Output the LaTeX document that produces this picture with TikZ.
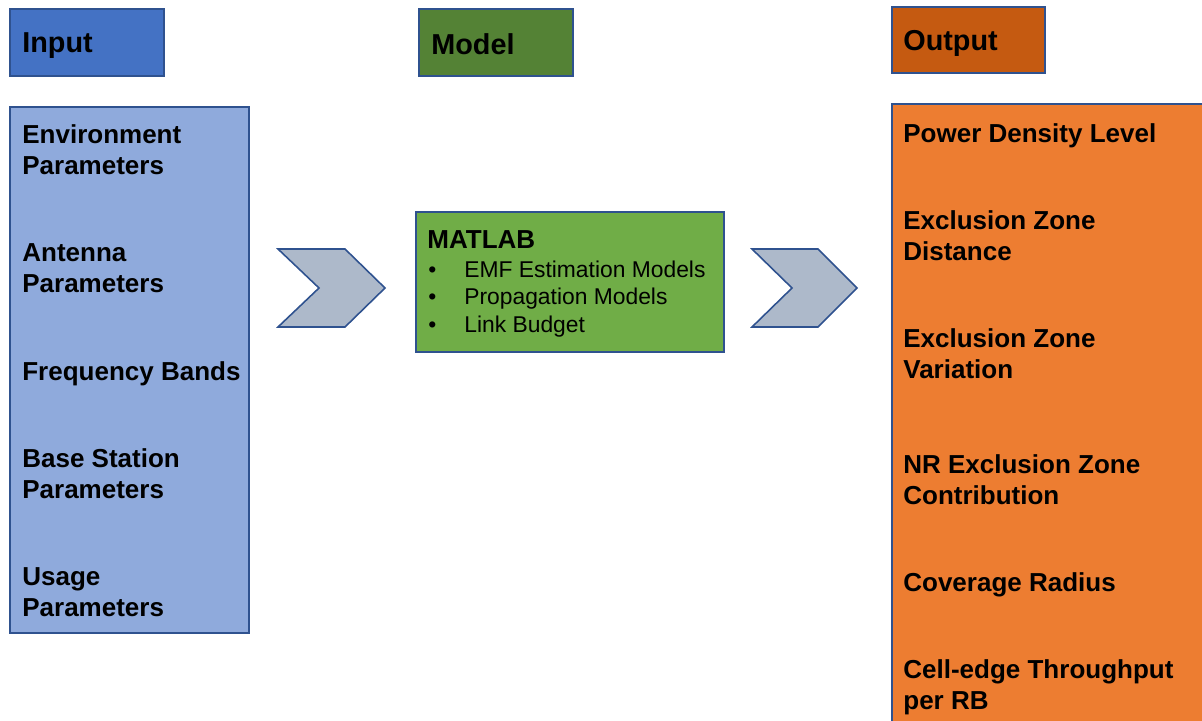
\documentclass[tikz,border=0pt]{standalone}
\usepackage{fontspec}
\setmainfont{Liberation Sans}
\usetikzlibrary{positioning}
\definecolor{InputBlue}{HTML}{4472C4}
\definecolor{InputLight}{HTML}{8FAADC}
\definecolor{ModelDark}{HTML}{548235}
\definecolor{ModelGreen}{HTML}{70AD47}
\definecolor{OutDark}{HTML}{C55A11}
\definecolor{OutOrange}{HTML}{ED7D31}
\definecolor{ChevGray}{HTML}{ADB9CA}
\definecolor{EdgeBlue}{HTML}{2F528F}
\tikzset{
  headbox/.style={draw=EdgeBlue,line width=0.9pt,rectangle,anchor=north west,
    inner sep=0pt},
  colbox/.style={draw=EdgeBlue,line width=0.9pt,rectangle,anchor=north west,
    inner sep=0pt},
  headtext/.style={anchor=base west,inner sep=0pt,
    font=\fontsize{16.4}{19}\selectfont\bfseries},
  itemtext/.style={anchor=north west,inner sep=0pt,align=left,
    font=\fontsize{14.8}{17.6}\selectfont\bfseries},
  bullettext/.style={anchor=north west,inner sep=0pt,align=left,
    font=\fontsize{13}{15.7}\selectfont},
  chevron/.style={draw=EdgeBlue,line width=0.9pt,fill=ChevGray,line join=miter},
}
\newcommand{\itembullet}{\makebox[0.72cm][l]{•}}

\begin{document}
\begin{tikzpicture}[x=0.02cm,y=-0.02cm]
  \useasboundingbox (0,0) rectangle (1202,720);
  \clip (0,0) rectangle (1202,720);
  % column headers
  \node[headbox,fill=InputBlue,minimum width=154*0.02cm,minimum height=67*0.02cm] (inhead) at (9,8) {};
  \node[headbox,fill=ModelDark,minimum width=154*0.02cm,minimum height=67*0.02cm] (modelhead) at (418,8) {};
  \node[headbox,fill=OutDark,minimum width=153*0.02cm,minimum height=66*0.02cm] (outhead) at (891,6) {};
  \node[headtext] (intitle) at (22,52) {Input};
  \node[headtext] (modeltitle) at (431,54) {Model};
  \node[headtext] (outtitle) at (903,50) {Output};
  % main boxes
  \node[colbox,fill=InputLight,minimum width=239*0.02cm,minimum height=526*0.02cm] (incol) at (9,106) {};
  \node[colbox,fill=ModelGreen,minimum width=308*0.02cm,minimum height=140*0.02cm] (modelbox) at (415,211) {};
  \node[colbox,fill=OutOrange,minimum width=330*0.02cm,minimum height=640*0.02cm] (outcol) at (891,103) {};
  % input items
  \node[itemtext] (env) at (22,124) {Environment\\Parameters};
  \node[itemtext] (ant) at (22,243) {Antenna\\Parameters};
  \node[itemtext] (freq) at (22,361) {Frequency Bands};
  \node[itemtext] (bs) at (22,448) {Base Station\\Parameters};
  \node[itemtext] (usage) at (22,567) {Usage\\Parameters};
  % model contents
  \node[itemtext] (matlab) at (427,230) {MATLAB};
  \node[bullettext] (models) at (428,260.5)
    {\itembullet EMF Estimation Models\\\itembullet Propagation Models\\\itembullet Link Budget};
  % output items
  \node[itemtext] (pdl) at (903,123) {Power Density Level};
  \node[itemtext] (ezd) at (903,210) {Exclusion Zone\\Distance};
  \node[itemtext] (ezv) at (903,328) {Exclusion Zone\\Variation};
  \node[itemtext] (nrez) at (903,454) {NR Exclusion Zone\\Contribution};
  \node[itemtext] (cov) at (903,572) {Coverage Radius};
  \node[itemtext] (tput) at (903,659) {Cell-edge Throughput\\per RB};
  % chevrons
  \draw[chevron] (278,249) -- (345,249) -- (385,288) -- (345,327) -- (278,327) -- (319,288) -- cycle;
  \draw[chevron] (752,249) -- (818,249) -- (857,288) -- (818,327) -- (752,327) -- (792,288) -- cycle;
\end{tikzpicture}
\end{document}
